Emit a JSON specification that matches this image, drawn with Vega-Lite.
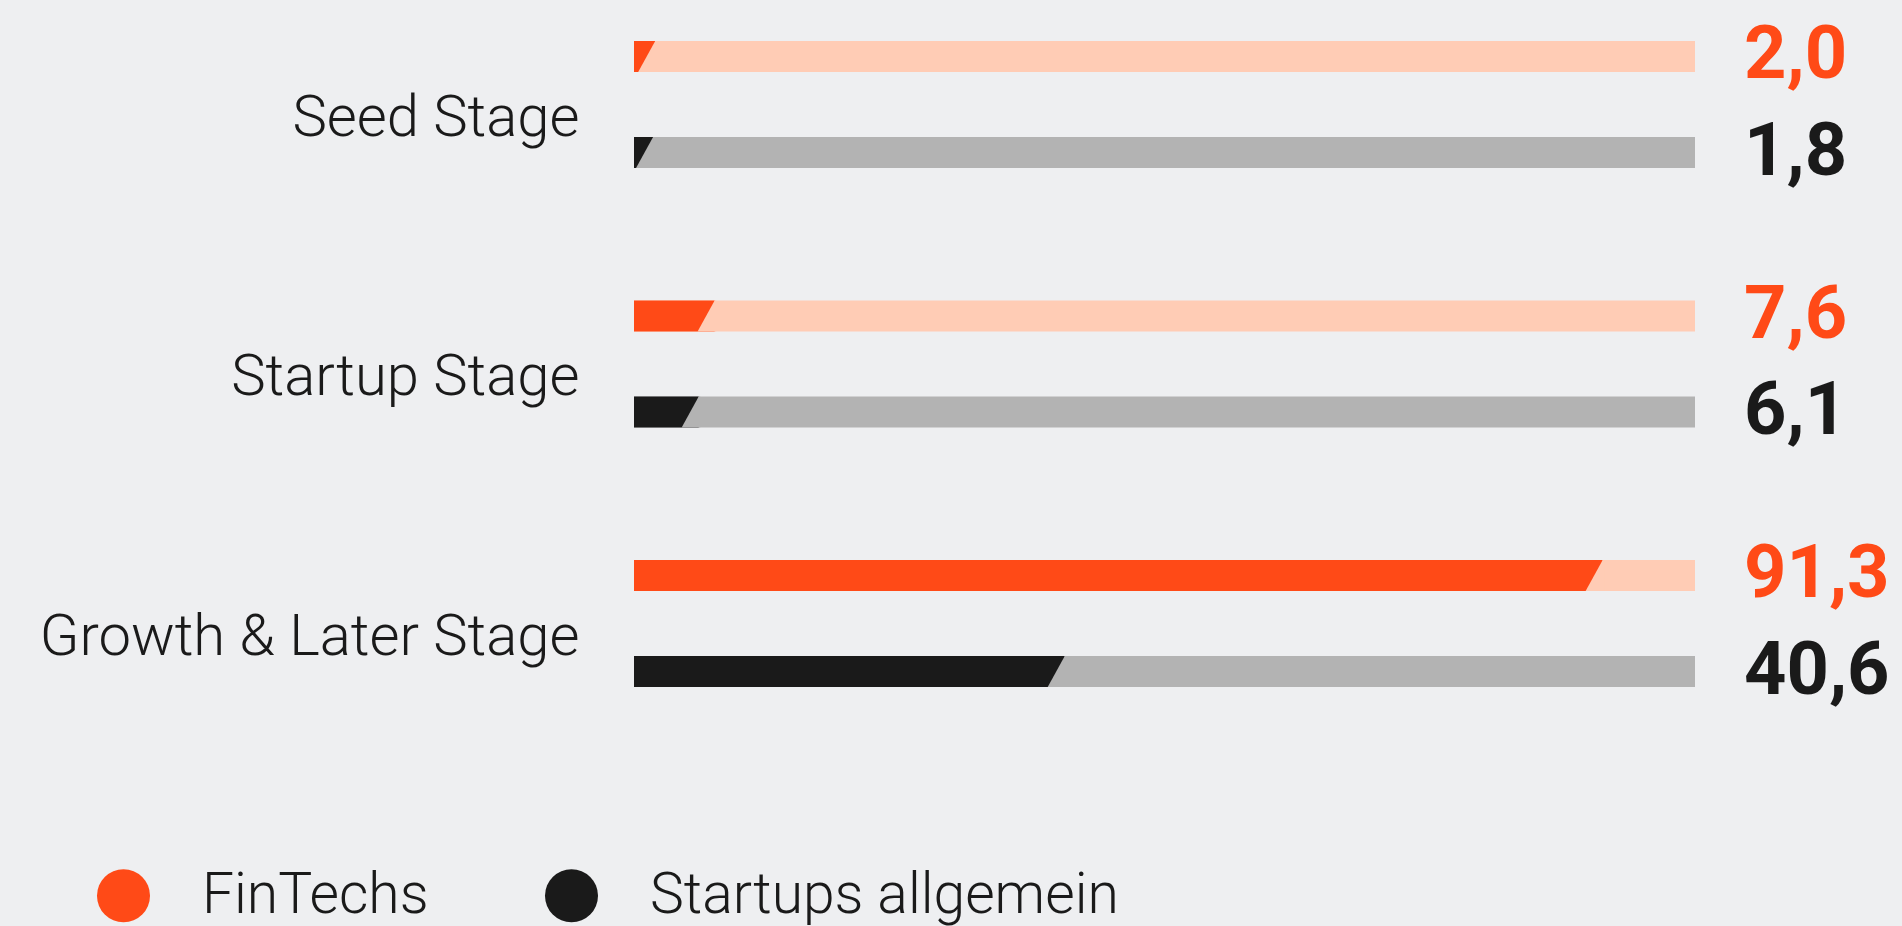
{
  "$schema": "https://vega.github.io/schema/vega-lite/v6.json",
  "width": 1061,
  "height": 780,
  "autosize": {"type": "none"},
  "padding": {"left": 634, "top": 0, "right": 207, "bottom": 146},
  "background": "#EEEFF1",
  "config": {
    "view": {"stroke": null},
    "font": "Roboto",
    "locale": {"number": {"decimal": ",", "thousands": ".", "grouping": [3], "currency": ["", " €"]}}
  },
  "data": {
    "values": [
      {"stage": "Seed Stage", "series": "FinTechs", "value": 2.0, "total": 100},
      {"stage": "Seed Stage", "series": "Startups allgemein", "value": 1.8, "total": 100},
      {"stage": "Startup Stage", "series": "FinTechs", "value": 7.6, "total": 100},
      {"stage": "Startup Stage", "series": "Startups allgemein", "value": 6.1, "total": 100},
      {"stage": "Growth & Later Stage", "series": "FinTechs", "value": 91.3, "total": 100},
      {"stage": "Growth & Later Stage", "series": "Startups allgemein", "value": 40.6, "total": 100}
    ]
  },
  "encoding": {
    "y": {
      "field": "stage",
      "type": "nominal",
      "scale": {"domain": ["Seed Stage", "Startup Stage", "Growth & Later Stage"], "range": [-25.25, 753.25], "paddingInner": 0, "paddingOuter": 0},
      "axis": {
        "title": null,
        "domain": false,
        "ticks": false,
        "labelFont": "Roboto",
        "labelFontSize": 58,
        "labelFontWeight": 300,
        "labelColor": "#1A1A1A",
        "labelPadding": 55,
        "labelOffset": 14,
        "labelLimit": 0,
        "labelBaseline": "middle"
      }
    },
    "yOffset": {
      "field": "series",
      "type": "nominal",
      "scale": {"domain": ["FinTechs", "Startups allgemein"], "paddingInner": 0.677, "paddingOuter": 0.69}
    }
  },
  "layer": [
    {
      "mark": {"type": "bar"},
      "encoding": {
        "x": {"field": "total", "type": "quantitative", "scale": {"domain": [0, 100]}, "axis": null},
        "color": {"condition": {"test": "datum.series === 'FinTechs'", "value": "#FFCCB5"}, "value": "#B3B3B3"}
      }
    },
    {
      "mark": {"type": "bar"},
      "encoding": {
        "x": {"field": "value", "type": "quantitative"},
        "color": {
          "field": "series",
          "type": "nominal",
          "scale": {"domain": ["FinTechs", "Startups allgemein"], "range": ["#FF4A17", "#1A1A1A"]},
          "legend": {
            "orient": "none",
            "legendX": -539,
            "legendY": 867,
            "direction": "horizontal",
            "title": null,
            "symbolType": "circle",
            "symbolSize": 2809,
            "symbolStrokeWidth": 0,
            "symbolOpacity": 1,
            "labelFont": "Roboto",
            "labelFontSize": 57,
            "labelFontWeight": 300,
            "labelColor": "#1A1A1A",
            "labelOffset": 50,
            "columnPadding": 114,
            "labelLimit": 0
          }
        }
      }
    },
    {
      "mark": {"type": "point", "filled": true, "opacity": 1, "strokeWidth": 0, "size": 961, "shape": "M0.1,-1L0.1,1L-1.1,1L0,-1Z"},
      "encoding": {
        "x": {"field": "value", "type": "quantitative"},
        "color": {"condition": {"test": "datum.series === 'FinTechs'", "value": "#FFCCB5"}, "value": "#B3B3B3"}
      }
    },
    {
      "mark": {"type": "text", "align": "left", "baseline": "middle", "dx": 49, "dy": 0, "fontSize": 74, "fontWeight": "bold", "font": "Roboto"},
      "encoding": {
        "x": {"field": "total", "type": "quantitative"},
        "text": {"field": "value", "type": "quantitative", "format": ".1f"},
        "color": {"field": "series", "type": "nominal"}
      }
    }
  ]
}
